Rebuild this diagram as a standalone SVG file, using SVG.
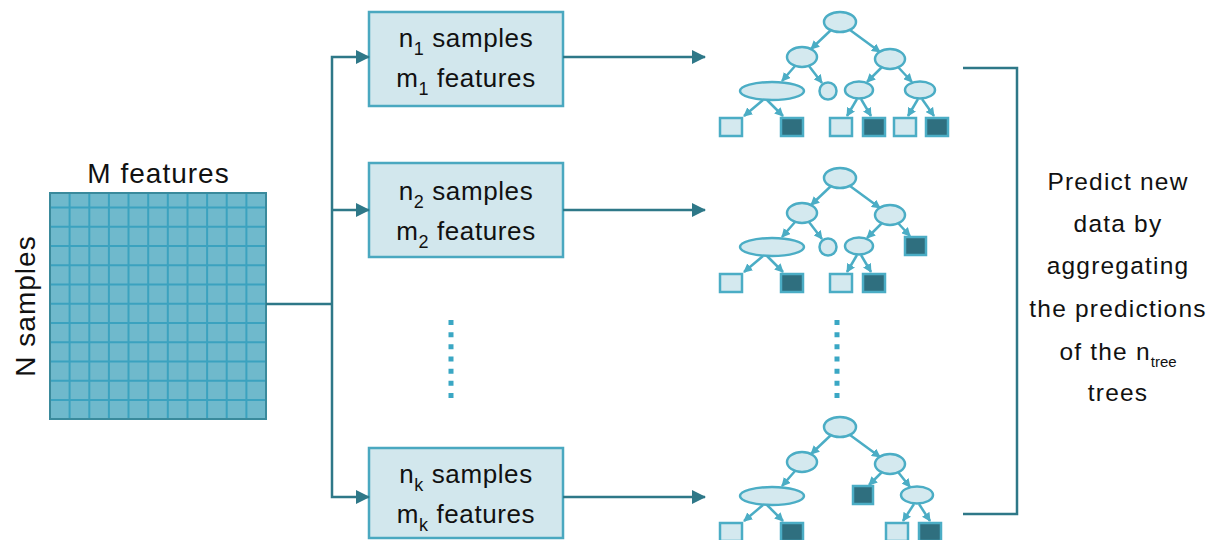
<svg xmlns="http://www.w3.org/2000/svg" width="1215" height="540" viewBox="0 0 1215 540">
<style>
text{font-family:"Liberation Sans",Arial,sans-serif;fill:#111}
.bx{fill:#d2e7ed;stroke:#4aa8c0;stroke-width:2.5}
.bt{font-size:26px;letter-spacing:0.6px;text-anchor:middle}
.sub{font-size:18px}
.rt{font-size:24.5px;letter-spacing:1.2px;text-anchor:middle}
.con{fill:none;stroke:#2e7888;stroke-width:2.5}
.tn{fill:#d4e9ef;stroke:#4badc5;stroke-width:2.5}
.dk{fill:#2f6f7f;stroke:#4badc5;stroke-width:2.5}
.te{fill:none;stroke:#4badc5;stroke-width:2.5}
.dot{fill:none;stroke:#3aa7c4;stroke-width:5;stroke-dasharray:5 7.17}
.grid{stroke:#3ba2bf;stroke-width:2}
</style>
<defs>
<marker id="ah" markerUnits="userSpaceOnUse" markerWidth="14" markerHeight="14" viewBox="0 0 14 14" refX="13" refY="7" orient="auto">
<path d="M0,0 L14,7 L0,14 z" fill="#2e7888"/>
</marker>
<marker id="ta" markerUnits="userSpaceOnUse" markerWidth="9" markerHeight="9" viewBox="0 0 9 9" refX="8" refY="4.5" orient="auto">
<path d="M0,0 L9,4.5 L0,9 z" fill="#4badc5"/>
</marker>
</defs>
<rect width="1215" height="540" fill="#fff"/>

<g id="matrix">
<rect x="50" y="193" width="216" height="226" fill="#6fb9cc"/>
<g class="grid">
<line x1="69.6" y1="193" x2="69.6" y2="419"/>
<line x1="89.3" y1="193" x2="89.3" y2="419"/>
<line x1="108.9" y1="193" x2="108.9" y2="419"/>
<line x1="128.5" y1="193" x2="128.5" y2="419"/>
<line x1="148.2" y1="193" x2="148.2" y2="419"/>
<line x1="167.8" y1="193" x2="167.8" y2="419"/>
<line x1="187.5" y1="193" x2="187.5" y2="419"/>
<line x1="207.1" y1="193" x2="207.1" y2="419"/>
<line x1="226.7" y1="193" x2="226.7" y2="419"/>
<line x1="246.4" y1="193" x2="246.4" y2="419"/>
<line x1="50" y1="207.5" x2="266" y2="207.5"/>
<line x1="50" y1="226.75" x2="266" y2="226.75"/>
<line x1="50" y1="246" x2="266" y2="246"/>
<line x1="50" y1="265.25" x2="266" y2="265.25"/>
<line x1="50" y1="284.5" x2="266" y2="284.5"/>
<line x1="50" y1="303.75" x2="266" y2="303.75"/>
<line x1="50" y1="323" x2="266" y2="323"/>
<line x1="50" y1="342.25" x2="266" y2="342.25"/>
<line x1="50" y1="361.5" x2="266" y2="361.5"/>
<line x1="50" y1="380.75" x2="266" y2="380.75"/>
<line x1="50" y1="400" x2="266" y2="400"/>
</g>
<rect x="50" y="193" width="216" height="226" fill="none" stroke="#3a8a9c" stroke-width="2"/>
<text x="158.5" y="183" font-size="28" letter-spacing="1" text-anchor="middle">M features</text>
<text transform="translate(35,306) rotate(-90)" font-size="28" letter-spacing="1" text-anchor="middle">N samples</text>
</g>

<g id="box1">
<rect class="bx" x="369" y="12" width="194" height="94"/>
<text class="bt" x="466" y="47">n<tspan class="sub" dy="8">1</tspan><tspan dy="-8"> samples</tspan></text>
<text class="bt" x="466" y="87">m<tspan class="sub" dy="8">1</tspan><tspan dy="-8"> features</tspan></text>
</g>
<g id="box2">
<rect class="bx" x="369" y="163" width="194" height="94"/>
<text class="bt" x="466" y="200">n<tspan class="sub" dy="8">2</tspan><tspan dy="-8"> samples</tspan></text>
<text class="bt" x="466" y="240">m<tspan class="sub" dy="8">2</tspan><tspan dy="-8"> features</tspan></text>
</g>
<g id="boxk">
<rect class="bx" x="369" y="448" width="194" height="90"/>
<text class="bt" x="466" y="483">n<tspan class="sub" dy="8">k</tspan><tspan dy="-8"> samples</tspan></text>
<text class="bt" x="466" y="523">m<tspan class="sub" dy="8">k</tspan><tspan dy="-8"> features</tspan></text>
</g>

<g id="dots">
<line class="dot" x1="451" y1="320" x2="451" y2="398"/>
<line class="dot" x1="837" y1="320" x2="837" y2="398"/>
</g>

<g id="tree1">
<g class="te" marker-end="url(#ta)">
<line x1="831" y1="30" x2="811" y2="49"/>
<line x1="850" y1="30" x2="880" y2="52"/>
<line x1="795" y1="66" x2="782" y2="81"/>
<line x1="809" y1="66" x2="822" y2="83"/>
<line x1="882" y1="67" x2="867" y2="82"/>
<line x1="898" y1="67" x2="912" y2="82"/>
<line x1="763" y1="100" x2="744" y2="116"/>
<line x1="767" y1="100" x2="783" y2="116"/>
<line x1="857" y1="99" x2="847" y2="116"/>
<line x1="861" y1="99" x2="871" y2="116"/>
<line x1="918" y1="99" x2="908" y2="116"/>
<line x1="922" y1="99" x2="934" y2="116"/>
</g>
<ellipse class="tn" cx="840" cy="22" rx="16" ry="10"/>
<ellipse class="tn" cx="802" cy="57" rx="15" ry="10"/>
<ellipse class="tn" cx="890" cy="59" rx="15" ry="10"/>
<ellipse class="tn" cx="772" cy="91" rx="32" ry="9"/>
<circle class="tn" cx="828" cy="91" r="8.5"/>
<ellipse class="tn" cx="859" cy="90" rx="14" ry="8.5"/>
<ellipse class="tn" cx="920" cy="90" rx="15" ry="8.5"/>
<rect class="tn" x="720" y="118" width="22" height="18"/>
<rect class="dk" x="781" y="118" width="22" height="18"/>
<rect class="tn" x="830" y="118" width="22" height="18"/>
<rect class="dk" x="863" y="118" width="22" height="18"/>
<rect class="tn" x="894" y="118" width="22" height="18"/>
<rect class="dk" x="926" y="118" width="22" height="18"/>
</g>

<g id="tree2" transform="translate(0,156)">
<g class="te" marker-end="url(#ta)">
<line x1="831" y1="30" x2="811" y2="49"/>
<line x1="850" y1="30" x2="880" y2="52"/>
<line x1="795" y1="66" x2="782" y2="81"/>
<line x1="809" y1="66" x2="822" y2="83"/>
<line x1="882" y1="67" x2="867" y2="82"/>
<line x1="898" y1="67" x2="910" y2="80"/>
<line x1="763" y1="100" x2="744" y2="116"/>
<line x1="767" y1="100" x2="783" y2="116"/>
<line x1="857" y1="99" x2="847" y2="116"/>
<line x1="861" y1="99" x2="871" y2="116"/>
</g>
<ellipse class="tn" cx="840" cy="22" rx="16" ry="10"/>
<ellipse class="tn" cx="802" cy="57" rx="15" ry="10"/>
<ellipse class="tn" cx="890" cy="59" rx="15" ry="10"/>
<ellipse class="tn" cx="772" cy="91" rx="32" ry="9"/>
<circle class="tn" cx="828" cy="91" r="8.5"/>
<ellipse class="tn" cx="859" cy="90" rx="14" ry="8.5"/>
<rect class="dk" x="905" y="81" width="21" height="18"/>
<rect class="tn" x="720" y="118" width="22" height="18"/>
<rect class="dk" x="781" y="118" width="22" height="18"/>
<rect class="tn" x="830" y="118" width="22" height="18"/>
<rect class="dk" x="863" y="118" width="22" height="18"/>
</g>

<g id="treek" transform="translate(0,405)">
<g class="te" marker-end="url(#ta)">
<line x1="831" y1="30" x2="811" y2="49"/>
<line x1="850" y1="30" x2="880" y2="52"/>
<line x1="795" y1="66" x2="782" y2="81"/>
<line x1="882" y1="67" x2="869" y2="80"/>
<line x1="898" y1="67" x2="910" y2="82"/>
<line x1="763" y1="100" x2="744" y2="116"/>
<line x1="767" y1="100" x2="783" y2="116"/>
<line x1="914" y1="99" x2="903" y2="116"/>
<line x1="919" y1="99" x2="930" y2="116"/>
</g>
<ellipse class="tn" cx="840" cy="22" rx="16" ry="10"/>
<ellipse class="tn" cx="802" cy="57" rx="15" ry="10"/>
<ellipse class="tn" cx="890" cy="59" rx="15" ry="10"/>
<ellipse class="tn" cx="772" cy="91" rx="32" ry="9"/>
<rect class="dk" x="853" y="81" width="20" height="18"/>
<ellipse class="tn" cx="917" cy="90" rx="16" ry="8.5"/>
<rect class="tn" x="720" y="118" width="22" height="18"/>
<rect class="dk" x="781" y="118" width="22" height="18"/>
<rect class="tn" x="886" y="118" width="22" height="18"/>
<rect class="dk" x="919" y="118" width="22" height="18"/>
</g>

<g id="connectors">
<path class="con" d="M266,304 H332"/>
<path class="con" d="M332,304 V57 H369" marker-end="url(#ah)"/>
<path class="con" d="M332,210 H369" marker-end="url(#ah)"/>
<path class="con" d="M332,304 V497 H369" marker-end="url(#ah)"/>
<path class="con" d="M563,57 H705" marker-end="url(#ah)"/>
<path class="con" d="M563,210 H705" marker-end="url(#ah)"/>
<path class="con" d="M563,497 H705" marker-end="url(#ah)"/>
<path class="con" d="M963,68 H1017 V514 H963" stroke="#3a8293"/>
</g>

<g id="result">
<text class="rt" x="1118" y="190">Predict new</text>
<text class="rt" x="1118" y="232">data by</text>
<text class="rt" x="1118" y="274">aggregating</text>
<text class="rt" x="1118" y="317">the predictions</text>
<text class="rt" x="1118" y="360">of the n<tspan font-size="15" letter-spacing="0" dy="7">tree</tspan></text>
<text class="rt" x="1118" y="401">trees</text>
</g>
</svg>
